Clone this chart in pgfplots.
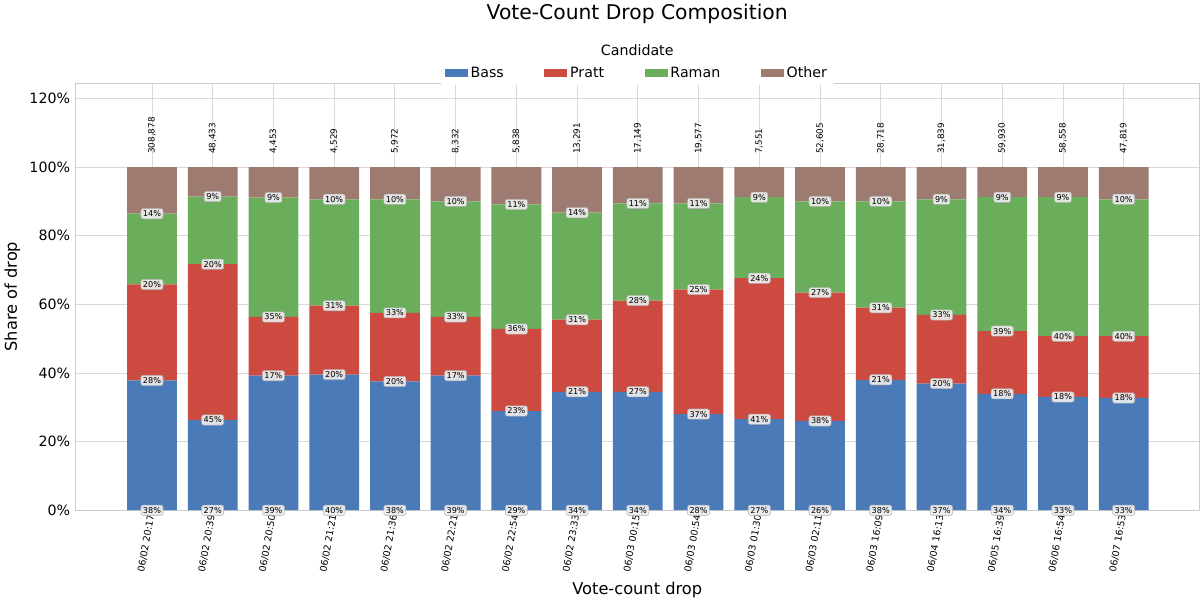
\documentclass[border=0pt]{standalone}
\usepackage{pgfplots}
\usepackage{pgfplotstable}
\pgfplotsset{compat=1.18}
\usepackage{fontspec}
\setmainfont{DejaVu Sans}
\definecolor{cB}{HTML}{4A7AB8}
\definecolor{cP}{HTML}{CC4A3F}
\definecolor{cR}{HTML}{6AAD5A}
\definecolor{cO}{HTML}{9E7B70}
\pgfplotstableread{
x B Bl P Pl R Rl O Ol
0 37.8 38\% 28.0 28\% 20.6 20\% 13.6 14\%
1 26.3 27\% 45.4 45\% 19.7 20\% 8.6 9\%
2 39.2 39\% 17.1 17\% 34.8 35\% 8.9 9\%
3 39.5 40\% 20.1 20\% 31.0 31\% 9.4 10\%
4 37.5 38\% 20.0 20\% 33.1 33\% 9.4 10\%
5 39.2 39\% 17.1 17\% 33.7 33\% 10.0 10\%
6 28.9 29\% 23.9 23\% 36.3 36\% 10.9 11\%
7 34.5 34\% 21.0 21\% 31.2 31\% 13.3 14\%
8 34.5 34\% 26.6 27\% 28.3 28\% 10.6 11\%
9 28.0 28\% 36.3 37\% 25.1 25\% 10.6 11\%
10 26.5 27\% 41.1 41\% 23.6 24\% 8.8 9\%
11 26.0 26\% 37.4 38\% 26.6 27\% 10.0 10\%
12 38.0 38\% 21.0 21\% 31.0 31\% 10.0 10\%
13 36.9 37\% 20.0 20\% 33.7 33\% 9.4 9\%
14 33.9 34\% 18.3 18\% 39.0 39\% 8.8 9\%
15 33.0 33\% 17.7 18\% 40.5 40\% 8.8 9\%
16 32.7 33\% 18.0 18\% 39.9 40\% 9.4 10\%
}\data
\begin{document}
\begin{tikzpicture}
\begin{axis}[
 scale only axis, width=832pt, height=316pt,
 ybar stacked, bar width=0.82,
 xmin=-1.27, xmax=17.25, ymin=0, ymax=124.5,
 xtick={0,...,16},
 xticklabels={06/02 20:17,06/02 20:39,06/02 20:50,06/02 21:21,06/02 21:36,06/02 22:21,06/02 22:54,06/02 23:33,06/03 00:15,06/03 00:54,06/03 01:30,06/03 02:11,06/03 16:09,06/04 16:13,06/05 16:39,06/06 16:54,06/07 16:53},
 xticklabel style={rotate=80,anchor=east,font=\fontsize{7}{8}\selectfont},
 ytick={0,20,...,120}, yticklabel={\pgfmathprintnumber{\tick}\%},
 /pgf/number format/assume math mode=true,
 yticklabel style={font=\fontsize{10.5}{12}\selectfont},
 major tick length=0pt,
 ymajorgrids, xmajorgrids, grid style={gray!30,line width=0.6pt},
 axis line style={gray!40},
 xlabel={Vote-count drop}, ylabel={Share of drop},
 xlabel style={font=\fontsize{12}{14}\selectfont},
 ylabel style={font=\fontsize{12}{14}\selectfont},
 title={Vote-Count Drop Composition},
 title style={font=\fontsize{15}{17}\selectfont, yshift=34pt},
 legend style={at={(0.5,1.0)},anchor=south,draw=none,legend columns=4,yshift=-2pt,
   font=\fontsize{10.5}{12}\selectfont,/tikz/every even column/.append style={column sep=28pt}},
 legend image code/.code={\draw[#1,draw=none] (0cm,-0.1cm) rectangle (0.6cm,0.12cm);},
 point meta=explicit symbolic,
 visualization depends on={rawy \as \rawy},
 nodes near coords={\pgfplotspointmeta},
 every node near coord/.append style={anchor=center,yshift={-\rawy*1.2691pt},
   font=\fontsize{6}{7}\selectfont,fill=gray!12,draw=gray!60,rounded corners=1.5pt,inner sep=1.5pt,fill opacity=0.9,text opacity=1},
 clip=false,
]
\addplot[fill=cB,draw=none] table[x=x,y=B,meta=Bl]{\data};
\addplot[fill=cP,draw=none] table[x=x,y=P,meta=Pl]{\data};
\addplot[fill=cR,draw=none] table[x=x,y=R,meta=Rl]{\data};
\addplot[fill=cO,draw=none] table[x=x,y=O,meta=Ol]{\data};
\legend{Bass,Pratt,Raman,Other}
\foreach \i/\t in {0/308{,}878,1/48{,}433,2/4{,}453,3/4{,}529,4/5{,}972,5/8{,}332,6/5{,}838,7/13{,}291,8/17{,}149,9/19{,}577,10/7{,}551,11/52{,}605,12/28{,}718,13/31{,}839,14/59{,}930,15/58{,}558,16/47{,}819}{
 \edef\temp{\noexpand\node[rotate=90,anchor=west,font=\noexpand\fontsize{6.5}{7}\noexpand\selectfont] at (axis cs:\i,102.5) {\t};}\temp}
\node[font=\fontsize{10.5}{12}\selectfont] at (rel axis cs:0.5,1.0) [yshift=24pt] {Candidate};
\end{axis}
\end{tikzpicture}
\end{document}
